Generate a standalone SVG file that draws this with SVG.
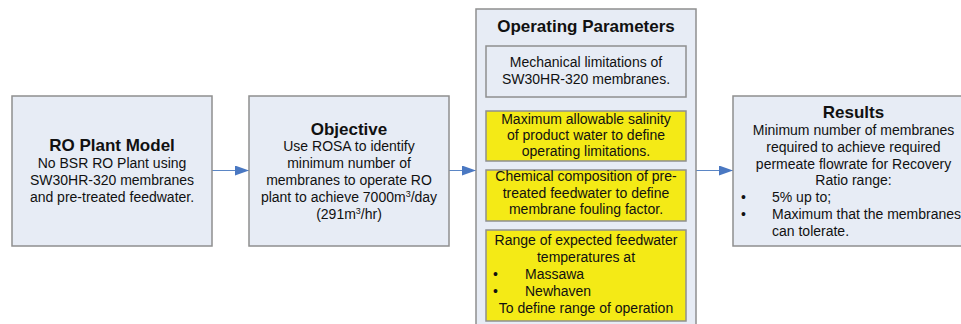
<svg xmlns="http://www.w3.org/2000/svg" width="961" height="324" viewBox="0 0 961 324">
<style>
.box{fill:#e7ecf5;stroke:#8f8f8f;stroke-width:1.5}
.ybox{fill:#f4ea16;stroke:#8f8f8f;stroke-width:1.5}
.t{font-family:"Liberation Sans",Arial,sans-serif;font-size:14px;fill:#111;text-anchor:middle}
.l{text-anchor:start}
.h{font-weight:bold;font-size:17px}
.conn{stroke:#5b86c5;stroke-width:1;fill:none}
.sub{stroke:#a9bde0;stroke-width:1;fill:none}
</style>
<defs>
<marker id="ah" markerUnits="userSpaceOnUse" markerWidth="15" markerHeight="10" refX="14" refY="5" orient="auto">
<path d="M0,0 L14,5 L0,10 Z" fill="#4a78c2"/>
</marker>
</defs>
<rect width="961" height="324" fill="#ffffff"/>
<g id="connectors">
<line class="conn" x1="212" y1="170.5" x2="249" y2="170.5" marker-end="url(#ah)"/>
<line class="conn" x1="449" y1="170.5" x2="476" y2="170.5" marker-end="url(#ah)"/>
<line class="conn" x1="696" y1="170.5" x2="733" y2="170.5" marker-end="url(#ah)"/>
<line class="sub" x1="586" y1="97" x2="586" y2="111"/>
</g>
<g id="ro-plant-model">
<rect class="box" x="12" y="96" width="200" height="150"/>
<text class="t h" x="112" y="151">RO Plant Model</text>
<text class="t" x="112" y="167.5">No BSR RO Plant using</text>
<text class="t" x="112" y="184.5">SW30HR-320 membranes</text>
<text class="t" x="112" y="201.5">and pre-treated feedwater.</text>
</g>
<g id="objective">
<rect class="box" x="249" y="96" width="200" height="150"/>
<text class="t h" x="349" y="134.5">Objective</text>
<text class="t" x="349" y="151">Use ROSA to identify</text>
<text class="t" x="349" y="168">minimum number of</text>
<text class="t" x="349" y="184.5">membranes to operate RO</text>
<text class="t" x="349" y="202">plant to achieve 7000m<tspan font-size="9" dy="-5">3</tspan><tspan dy="5">/day</tspan></text>
<text class="t" x="349" y="219">(291m<tspan font-size="9" dy="-5">3</tspan><tspan dy="5">/hr)</tspan></text>
</g>
<g id="operating-parameters">
<rect class="box" x="476" y="9" width="220" height="330"/>
<text class="t h" x="586" y="32">Operating Parameters</text>
</g>
<g id="mechanical-limitations">
<rect class="box" x="486" y="46" width="200" height="51"/>
<text class="t" x="586" y="67">Mechanical limitations of</text>
<text class="t" x="586" y="83.5">SW30HR-320 membranes.</text>
</g>
<g id="max-salinity">
<rect class="ybox" x="486" y="111" width="200" height="50"/>
<text class="t" x="586" y="123.5">Maximum allowable salinity</text>
<text class="t" x="586" y="139.5">of product water to define</text>
<text class="t" x="586" y="156">operating limitations.</text>
</g>
<g id="chemical-composition">
<rect class="ybox" x="486" y="170" width="200" height="51"/>
<text class="t" x="586" y="181">Chemical composition of pre-</text>
<text class="t" x="586" y="197.5">treated feedwater to define</text>
<text class="t" x="586" y="214">membrane fouling factor.</text>
</g>
<g id="feedwater-temperatures">
<rect class="ybox" x="486" y="230" width="200" height="91"/>
<text class="t" x="586" y="245">Range of expected feedwater</text>
<text class="t" x="586" y="262">temperatures at</text>
<text class="t l" x="493" y="279">•</text>
<text class="t l" x="525" y="279">Massawa</text>
<text class="t l" x="493" y="296">•</text>
<text class="t l" x="525" y="296">Newhaven</text>
<text class="t" x="586" y="313">To define range of operation</text>
</g>
<g id="results">
<rect class="box" x="733" y="96" width="241" height="150"/>
<text class="t h" x="853.5" y="117.5">Results</text>
<text class="t" x="853.5" y="135">Minimum number of membranes</text>
<text class="t" x="853.5" y="152">required to achieve required</text>
<text class="t" x="853.5" y="168.5">permeate flowrate for Recovery</text>
<text class="t" x="853.5" y="185">Ratio range:</text>
<text class="t l" x="741" y="202">•</text>
<text class="t l" x="772" y="202">5% up to;</text>
<text class="t l" x="741" y="219">•</text>
<text class="t l" x="772" y="219">Maximum that the membranes</text>
<text class="t l" x="772" y="235.5">can tolerate.</text>
</g>
</svg>
